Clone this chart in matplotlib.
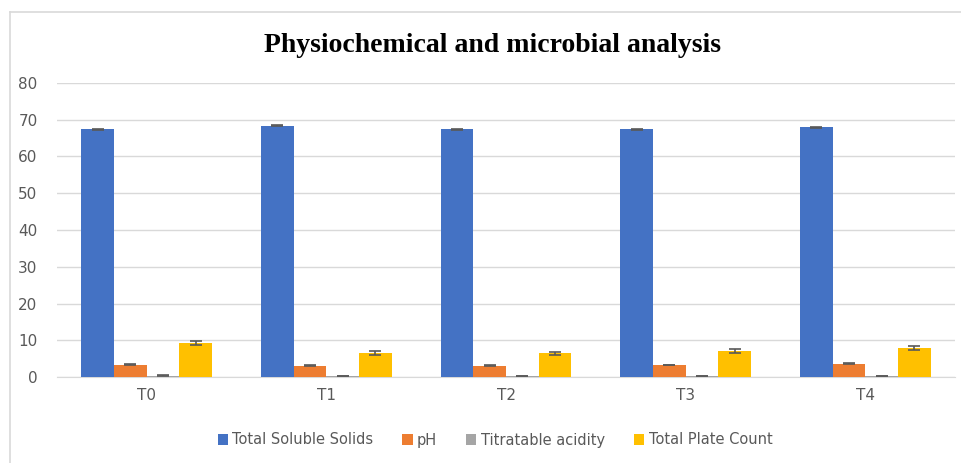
import numpy as np
import matplotlib.pyplot as plt
from matplotlib.lines import Line2D

# sample groups
groups = ['T0', 'T1', 'T2', 'T3', 'T4']
series = ['Total Soluble Solids', 'pH', 'Titratable acidity', 'Total Plate Count']

tss = [67.4, 68.4, 67.4, 67.4, 67.9]
ph = [3.4, 3.1, 3.1, 3.3, 3.6]
acidity = [0.4, 0.35, 0.35, 0.35, 0.35]
tpc = [9.2, 6.6, 6.4, 7.1, 7.9]

tss_err = [0.2, 0.2, 0.2, 0.2, 0.2]
ph_err = [0.1, 0.1, 0.1, 0.1, 0.1]
acidity_err = [0.05, 0.05, 0.05, 0.05, 0.05]
tpc_err = [0.5, 0.5, 0.5, 0.5, 0.5]

colors = ['#4472C4', '#ED7D31', '#A5A5A5', '#FFC000']

fig = plt.figure(figsize=(9.61, 4.63), dpi=100)
ax = fig.add_axes([57 / 961, 1 - 377 / 463, (955 - 57) / 961, (377 - 83) / 463])

# chart border, only left and top edges are inside the crop
bx, by = 10 / 961, 1 - 12 / 463
fig.lines.append(Line2D([bx, bx], [0, by], transform=fig.transFigure,
                        color='#D9D9D9', lw=1.2))
fig.lines.append(Line2D([bx, 1], [by, by], transform=fig.transFigure,
                        color='#D9D9D9', lw=1.2))

x = np.arange(len(groups))
w = 0.182
vals = [tss, ph, acidity, tpc]
errs = [tss_err, ph_err, acidity_err, tpc_err]
for i in range(4):
    ax.bar(x + (i - 1.5) * w, vals[i], w, color=colors[i], label=series[i],
           yerr=errs[i], error_kw=dict(ecolor='#595959', lw=1.2, capsize=4, capthick=1.2),
           zorder=3)

ax.set_xlim(-0.5, 4.5)
ax.set_ylim(0, 80)
ax.set_yticks(range(0, 81, 10))
ax.set_xticks(x)
ax.set_xticklabels(groups)
ax.grid(axis='y', color='#D9D9D9', lw=1, zorder=0)
for s in ['top', 'right', 'left']:
    ax.spines[s].set_visible(False)
ax.spines['bottom'].set_color('#D9D9D9')
ax.tick_params(length=0, labelsize=11, labelcolor='#595959', pad=8)
ax.tick_params(axis='y', pad=14)

fig.text(492 / 961, 1 - 45 / 463, 'Physiochemical and microbial analysis',
         ha='center', va='center', fontsize=20, fontweight='bold',
         family='Liberation Serif')

fig.legend(loc='center', bbox_to_anchor=(495 / 961, 1 - 440 / 463), ncol=4,
           frameon=False, fontsize=10.5, handlelength=0.7, handleheight=0.7,
           columnspacing=2.0, handletextpad=0.3, labelcolor='#595959')

plt.savefig('out.png')
